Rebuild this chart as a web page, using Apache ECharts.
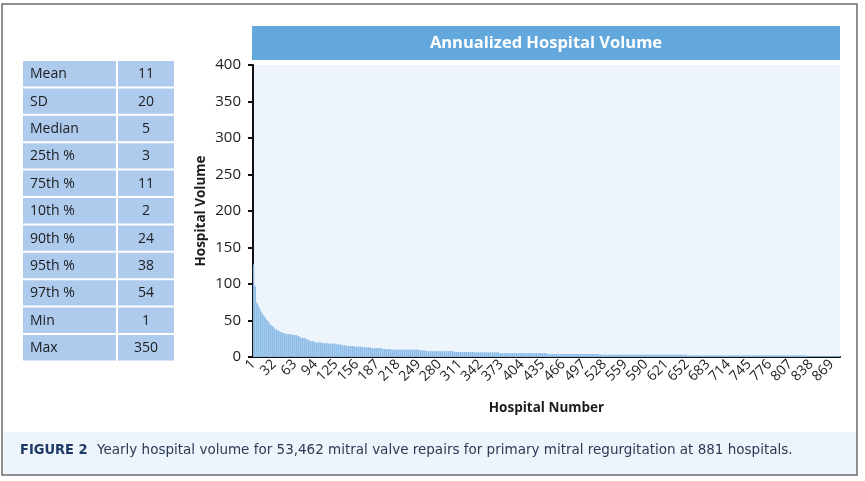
<!DOCTYPE html>
<html>
<head>
<meta charset="utf-8">
<script src="https://cdn.jsdelivr.net/npm/echarts@6/dist/echarts.min.js"></script>
<style>
  html, body { margin: 0; padding: 0; background: #ffffff; }
  #chart { width: 865px; height: 481px; }
</style>
</head>
<body>
<div id="chart"></div>
<script>
// ---------- DATA ----------
// Summary statistics table
const statLabels = ['Mean', 'SD', 'Median', '25th %', '75th %', '10th %', '90th %', '95th %', '97th %', 'Min', 'Max'];
const statValues = ['11', '20', '5', '3', '11', '2', '24', '38', '54', '1', '350'];

// Annualized volume of the highest-volume hospitals, one value per hospital (sorted descending)
const leadingVolumes = [127, 125, 98, 96, 76, 74, 73, 72, 69, 67,
                        65, 63, 61, 60, 59, 57, 56, 55, 53, 52,
                        51, 50, 49, 48, 46, 45, 44, 43, 42, 42,
                        41, 40, 39, 38, 38, 37, 37, 36, 36, 35];
// Remaining hospitals: plateaus of equal volume (value, number of hospitals at that value)
const tailStepValues = [34, 33, 31, 30, 28, 26, 24, 22, 20, 19, 18, 17, 16, 15, 14, 13, 12, 11, 10, 9, 8, 7, 6, 5, 4, 3, 2, 1];
const tailStepCounts = [4, 4, 10, 8, 5, 8, 5, 8, 12, 8, 12, 8, 7, 12, 13, 13, 17, 13, 42, 10, 42, 31, 37, 72, 80, 130, 180, 50];

// Tick labels shown on the x axis
const xTickLabels = ['1', '32', '63', '94', '125', '156', '187', '218', '249', '280', '311', '342', '373', '404', '435',
                     '466', '497', '528', '559', '590', '621', '652', '683', '714', '745', '776', '807', '838', '869'];

const chartTitle = 'Annualized Hospital Volume';
const yAxisTitle = 'Hospital Volume';
const xAxisTitle = 'Hospital Number';
const captionLead = 'FIGURE 2';
const captionText = 'Yearly hospital volume for 53,462 mitral valve repairs for primary mitral regurgitation at 881 hospitals.';

// ---------- BUILD ----------
const volumes = leadingVolumes.slice();
tailStepValues.forEach((v, i) => { for (let k = 0; k < tailStepCounts[i]; k++) volumes.push(v); });
const hospitals = volumes.map((_, i) => String(i + 1));
const tickSet = new Set(xTickLabels);

const chart = echarts.init(document.getElementById('chart'), null, { renderer: 'canvas' });

const font = "'Open Sans', 'Noto Sans', sans-serif";
const tableX = 23, tableY = 61, rowH = 27.4, col1W = 93, col2W = 56, gap = 2;
const tableGraphics = [];
statLabels.forEach((lab, i) => {
  const y = tableY + i * rowH;
  tableGraphics.push({ type: 'rect', shape: { x: tableX, y: y, width: col1W, height: rowH - gap }, style: { fill: '#aecbee' } });
  tableGraphics.push({ type: 'rect', shape: { x: tableX + col1W + gap, y: y, width: col2W, height: rowH - gap }, style: { fill: '#aecbee' } });
  tableGraphics.push({ type: 'text', x: tableX + 7, y: y + (rowH - gap) / 2 + 0.5,
    style: { text: lab, font: "14px " + font, fill: '#1c1c1c', verticalAlign: 'middle', align: 'left' } });
  tableGraphics.push({ type: 'text', x: tableX + col1W + gap + col2W / 2, y: y + (rowH - gap) / 2 + 0.5,
    style: { text: statValues[i], font: "14px " + font, fill: '#1c1c1c', verticalAlign: 'middle', align: 'center' } });
});

const option = {
  backgroundColor: '#ffffff',
  animation: false,
  grid: { left: 253, right: 25, top: 65, bottom: 124, containLabel: false, outerBoundsMode: 'none',
          show: true, backgroundColor: '#eef4fc', borderWidth: 0 },
  xAxis: {
    type: 'category',
    data: hospitals,
    name: xAxisTitle,
    nameLocation: 'middle',
    nameGap: 44,
    nameMoveOverlap: false,
    nameTextStyle: { fontFamily: font, fontWeight: 'bold', fontSize: 13.5, color: '#1c1c1c' },
    axisLine: { lineStyle: { color: '#111', width: 2 } },
    axisTick: { show: false },
    axisLabel: {
      interval: (idx, val) => tickSet.has(val),
      rotate: 45, fontFamily: font, fontSize: 14, color: '#1c1c1c', margin: 5
    }
  },
  yAxis: {
    type: 'value',
    min: 0, max: 400, interval: 50,
    name: yAxisTitle,
    nameLocation: 'middle',
    nameGap: 45,
    nameMoveOverlap: false,
    nameRotate: 90,
    nameTextStyle: { fontFamily: font, fontWeight: 'bold', fontSize: 13.5, color: '#1c1c1c' },
    axisLine: { show: true, lineStyle: { color: '#111', width: 2 } },
    axisTick: { show: true, length: 5, lineStyle: { color: '#111', width: 2 } },
    axisLabel: { fontFamily: font, fontSize: 15, color: '#1c1c1c', margin: 12 },
    splitLine: { show: false }
  },
  series: [{
    type: 'bar',
    data: volumes,
    barCategoryGap: '0%',
    itemStyle: { color: (p) => (p.dataIndex % 3 === 1 ? '#b0d1f0' : '#86b9e6') },
    silent: true
  }],
  graphic: [
    { type: 'rect', shape: { x: 2, y: 4, width: 855, height: 471 }, style: { fill: 'none', stroke: '#6b6b6b', lineWidth: 1.5 }, z: 10 },
    { type: 'rect', shape: { x: 3, y: 432, width: 853, height: 42 }, style: { fill: '#eef4fb' } },
    { type: 'text', x: 20, y: 450, style: { text: captionLead, font: "bold 14.5px 'DejaVu Sans Condensed', 'Liberation Sans Narrow', sans-serif", fill: '#1d3a66', verticalAlign: 'middle' } },
    { type: 'text', x: 97, y: 450, style: { text: captionText, font: "13.5px 'DejaVu Sans', sans-serif", fill: '#2b3a55', verticalAlign: 'middle' } },
    { type: 'rect', shape: { x: 252, y: 26, width: 588, height: 34 }, style: { fill: '#62a8dd' } },
    { type: 'text', x: 546, y: 43, style: { text: chartTitle, font: "bold 16.5px " + font, fill: '#ffffff', align: 'center', verticalAlign: 'middle' } }
  ].concat(tableGraphics)
};
chart.setOption(option);
</script>
</body>
</html>
